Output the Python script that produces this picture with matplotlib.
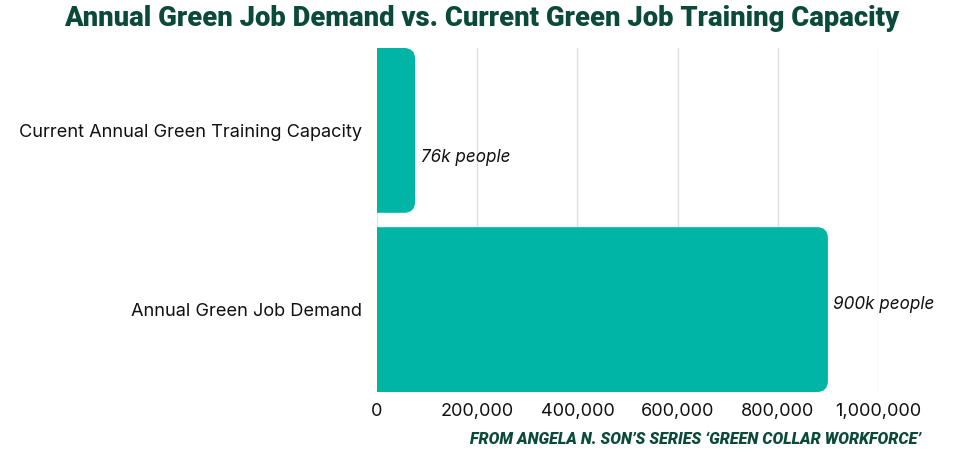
import matplotlib
matplotlib.use("Agg")
import matplotlib.pyplot as plt
from matplotlib.path import Path
from matplotlib.patches import PathPatch
from matplotlib.ticker import FuncFormatter

categories = ["Current Annual Green Training Capacity", "Annual Green Job Demand"]
values = [76000, 900000]
value_labels = ["76k people", "900k people"]
xticks = [0, 200000, 400000, 600000, 800000, 1000000]

BAR = "#00b5a3"
DARK = "#0b4a3a"

plt.rcParams['font.family'] = ['Inter', 'DejaVu Sans']

fig = plt.figure(figsize=(9.54, 4.63), dpi=100)
ax = fig.add_axes([377/954, 1-392/463, (878-377)/954, (392-48)/463])

ypos = [1, 0]
h = 0.92
bars = ax.barh(ypos, values, height=h, color=BAR)
ax.set_xlim(0, 1000000)
ax.set_ylim(-h/2, 1 + h/2)
ax.set_yticks(ypos)
ax.set_yticklabels(categories, fontsize=13.1, color="#111111")
ax.set_xticks(xticks)
ax.xaxis.set_major_formatter(FuncFormatter(lambda v, p: f"{int(v):,}"))
ax.tick_params(axis='x', labelsize=13, colors="#111111", length=0, pad=8)
ax.tick_params(axis='y', length=0, pad=11)
for s in ax.spines.values():
    s.set_visible(False)
ax.grid(axis='x', color="#e0e0e0", linewidth=1)
ax.set_axisbelow(True)

# rounded right corners
fig.canvas.draw()
trans = ax.transData
rpx = 11
for b in bars:
    x0, y0 = b.get_x(), b.get_y()
    w, bh = b.get_width(), b.get_height()
    (px0, py0) = trans.transform((x0, y0))
    (px1, py1) = trans.transform((x0 + w, y0 + bh))
    ylo, yhi = min(py0, py1), max(py0, py1)
    verts = [(px0, ylo), (px1 - rpx, ylo), (px1, ylo), (px1, ylo + rpx),
             (px1, yhi - rpx), (px1, yhi), (px1 - rpx, yhi), (px0, yhi), (px0, ylo)]
    codes = [Path.MOVETO, Path.LINETO, Path.CURVE3, Path.CURVE3,
             Path.LINETO, Path.CURVE3, Path.CURVE3, Path.LINETO, Path.CLOSEPOLY]
    patch = PathPatch(Path(verts, codes), facecolor=BAR, edgecolor='none', transform=None)
    ax.add_artist(patch)
    b.set_visible(False)

offsets = [-0.15, 0.03]
for y, v, lab, off in zip(ypos, values, value_labels, offsets):
    ax.annotate(lab, (v, y + off), xytext=(4, 0), textcoords="offset points",
                va="center", ha="left", fontsize=12.3, style="italic", color="#111111")

fig.text(482/954, 1 - 18/463, "Annual Green Job Demand vs. Current Green Job Training Capacity",
         ha="center", va="center", fontsize=19.7, fontweight="heavy", color=DARK,
         family=['Roboto', 'DejaVu Sans'])
fig.text(921/954, 1 - 440/463, "FROM ANGELA N. SON\u2019S SERIES \u2018GREEN COLLAR WORKFORCE\u2019",
         ha="right", va="center", fontsize=11.5, fontweight="heavy", style="italic", color=DARK,
         family=['Roboto', 'DejaVu Sans'])

fig.savefig("out.png", dpi=100)
